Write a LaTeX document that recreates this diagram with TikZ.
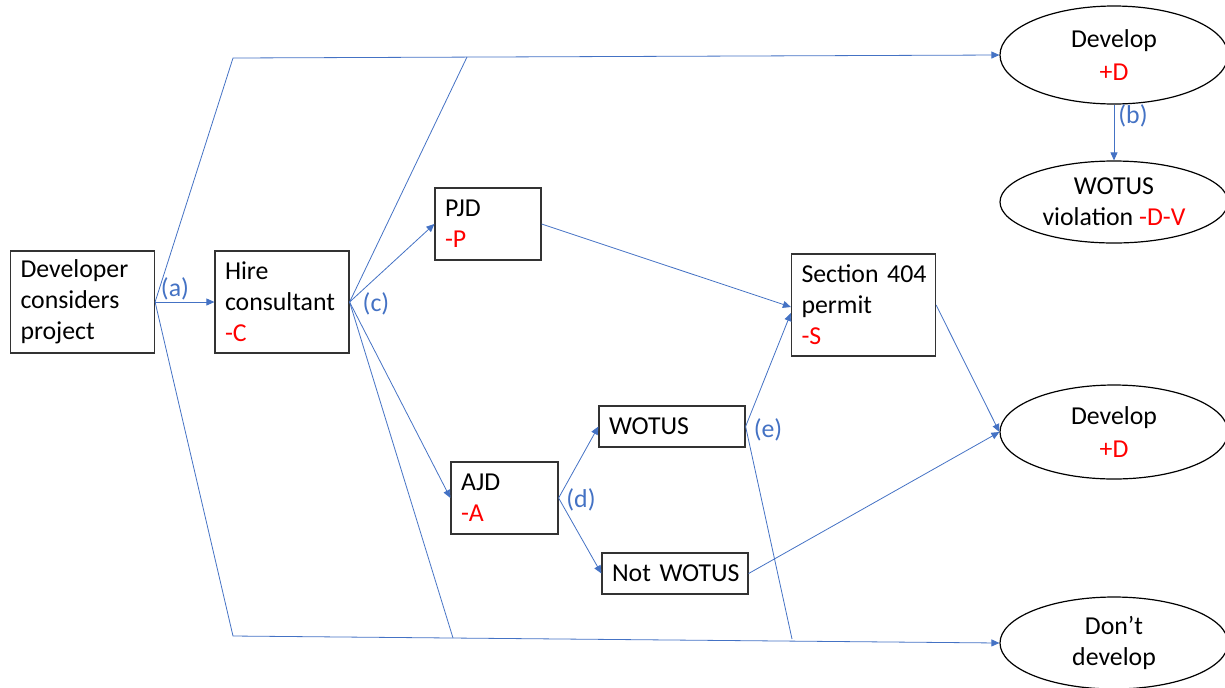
\documentclass[tikz,border=0pt]{standalone}
\usepackage{fontspec}
\setmainfont{Carlito}
\usetikzlibrary{arrows.meta,shapes.geometric}

\definecolor{lnblue}{HTML}{4472C4}
\definecolor{costred}{HTML}{FF0000}

\tikzset{
	box/.style={draw=black!80, line width=0.6pt, rectangle, inner xsep=5pt, inner ysep=0pt, text width=#1, align=left,
		execute at begin node={\hyphenpenalty=10000}},
	outcome/.style={draw=black, line width=0.6pt, ellipse, inner sep=0pt, minimum width=114pt, align=center},
	link/.style={draw=lnblue, line width=0.4pt},
	tips/.style={-{Triangle[length=4pt, width=3.5pt]}},
	tag/.style={text=lnblue}
}

\begin{document}
\begin{tikzpicture}[x=0.5pt, y=-0.5pt]

\def\width{1225}
\def\height{687}

\fontsize{12.9}{15.5}\selectfont
\path [use as bounding box] (0,0) rectangle (\width,\height);

% BOXES
\node [box=62pt, minimum height=51pt] (dev) at (82.5,302) {Developer\\considers\\project};
\node [box=57pt, minimum height=51pt] (hire) at (282,302) {Hire\\consultant\\\textcolor{costred}{-C}};
\node [box=43pt, minimum height=36pt] (pjd) at (488,224) {PJD\\\textcolor{costred}{-P}};
\node [box=43.5pt, minimum height=36pt] (ajd) at (504.5,498) {AJD\\\textcolor{costred}{-A}};
\node [box=63pt, minimum height=20.5pt] (wot) at (672,426.5) {WOTUS};
\node [box=63pt, minimum height=20.5pt] (notw) at (675,573.5) {Not~WOTUS};
\node [box=62pt, minimum height=51pt] (sec) at (863.5,305) {Section~404\\permit\\\textcolor{costred}{-S}};

% OUTCOMES
\node [outcome, minimum height=49pt] (devA) at (1114,55) {Develop\\[1pt]\textcolor{costred}{+D}};
\node [outcome, minimum height=41pt] (viol) at (1114,202) {WOTUS\\violation \textcolor{costred}{-D-V}};
\node [outcome, minimum height=47pt] (devB) at (1114,432) {Develop\\[1pt]\textcolor{costred}{+D}};
\node [outcome, minimum height=46pt] (dont) at (1114,643) {Don’t\\develop};

% BENDS
\coordinate (tl) at (233,58);
\coordinate (tm) at (467,57);
\coordinate (bl) at (233,636);
\coordinate (bm) at (453,638);
\coordinate (br) at (792,639);

% ARROWS
\path [link, tips] (dev.east) -- (hire.west);
\path [link, tips] (dev.east) -- (tl) -- (devA.west);
\path [link] (hire.east) -- (tm);
\path [link, tips] (dev.east) -- (bl) -- (dont.west);
\path [link] (hire.east) -- (bm);
\path [link] (wot.east) -- (br);
\path [link, tips] (devA.south) -- (viol.north);
\path [link, tips] (hire.east) -- (pjd.west);
\path [link, tips] (hire.east) -- (ajd.west);
\path [link, tips] (ajd.east) -- (wot.west);
\path [link, tips] (ajd.east) -- (notw.west);
\path [link, tips] (pjd.east) -- ([yshift=-1pt]sec.west);
\path [link, tips] (wot.east) -- ([yshift=-4pt]sec.west);
\path [link, tips] (sec.east) -- (devB.west);
\path [link, tips] (notw.east) -- (devB.west);

% LABELS
\node [tag] (la) at (175,289) {(a)};
\node [tag] (lb) at (1133,116) {(b)};
\node [tag] (lc) at (376,304) {(c)};
\node [tag] (ld) at (581,500) {(d)};
\node [tag] (le) at (768,430) {(e)};

\end{tikzpicture}
\end{document}
